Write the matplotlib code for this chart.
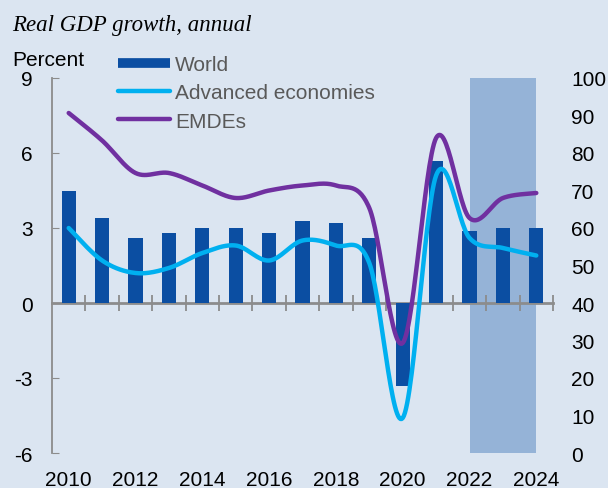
import numpy as np
import matplotlib
matplotlib.use("Agg")
import matplotlib.pyplot as plt
from matplotlib.lines import Line2D

plt.rcParams['font.family'] = ['Liberation Sans', 'DejaVu Sans']
plt.rcParams['axes.unicode_minus'] = False

# data
years = np.arange(2010, 2025)
world = [4.5, 3.4, 2.6, 2.8, 3.0, 3.0, 2.8, 3.3, 3.2, 2.6, -3.3, 5.7, 2.9, 3.0, 3.0]
advanced = [3.0, 1.7, 1.2, 1.4, 2.0, 2.3, 1.7, 2.5, 2.3, 1.6, -4.6, 5.1, 2.6, 2.2, 1.9]
emdes = [7.6, 6.5, 5.2, 5.2, 4.7, 4.2, 4.5, 4.7, 4.7, 3.8, -1.6, 6.6, 3.4, 4.2, 4.4]
shade_years = [2022, 2024]
shade_top = [100, 100]

bg = '#dbe5f1'
c_bar = '#0b4ea2'
c_ae = '#00b0f0'
c_em = '#7030a0'
c_shade = '#95b3d7'
fs = 15


def smooth(x, y, n=30):
    # Excel-like smoothed line (Catmull-Rom through the points)
    p = np.column_stack([x, y]).astype(float)
    p = np.vstack([p[0], p, p[-1]])
    out = []
    t = np.linspace(0, 1, n, endpoint=False)[:, None]
    for i in range(1, len(p) - 2):
        p0, p1, p2, p3 = p[i - 1], p[i], p[i + 1], p[i + 2]
        seg = 0.5 * ((2 * p1) + (-p0 + p2) * t + (2 * p0 - 5 * p1 + 4 * p2 - p3) * t ** 2
                     + (-p0 + 3 * p1 - 3 * p2 + p3) * t ** 3)
        out.append(seg)
    out.append(p[-2][None, :])
    out = np.vstack(out)
    return out[:, 0], out[:, 1]


fig = plt.figure(figsize=(6.08, 4.89), dpi=100, facecolor=bg)
ax = fig.add_axes([52 / 608, 1 - 454 / 489, 501 / 608, 375 / 489])
ax2 = ax.twinx()
ax.set_zorder(ax2.get_zorder() + 1)
ax.patch.set_visible(False)
ax2.patch.set_facecolor(bg)

ax2.fill_between(shade_years, 0, shade_top, color=c_shade, lw=0)
ax2.set_ylim(0, 100)
ax2.set_yticks(range(0, 101, 10))
for s in ax2.spines.values():
    s.set_visible(False)
ax2.tick_params(axis='y', length=0, pad=13, labelsize=fs, colors='black')

ax.bar(years, world, width=0.42, color=c_bar, zorder=2)
x, y = smooth(years, advanced)
ax.plot(x, y, color=c_ae, lw=3.2, solid_capstyle='round', zorder=3)
x, y = smooth(years, emdes)
ax.plot(x, y, color=c_em, lw=3.2, solid_capstyle='round', zorder=4)

ax.set_xlim(2009.5, 2024.5)
ax.set_ylim(-6, 9)
ax.set_yticks(range(-6, 10, 3))
ax.set_xticks(range(2010, 2025, 2))
ax.tick_params(axis='y', direction='in', length=5, color='#8c8c8c', pad=14, labelsize=fs)
ax.tick_params(axis='x', length=0, pad=12, labelsize=fs)
for k in ['top', 'right', 'bottom']:
    ax.spines[k].set_visible(False)
ax.spines['left'].set_color('#8c8c8c')
ax.spines['left'].set_linewidth(1.3)

# zero line with cross ticks between years
zx = ax.secondary_xaxis(0.4)
zx.set_xticks(np.arange(2010.5, 2024.6, 1))
zx.set_xticklabels([])
zx.tick_params(direction='inout', length=11, width=1.3, color='#8c8c8c')
zx.spines['bottom'].set_color('#8c8c8c')
zx.spines['bottom'].set_linewidth(2)

fig.text(12 / 608, 1 - 31 / 489, 'Real GDP growth, annual', family='Liberation Serif',
         style='italic', fontsize=16.5, color='black')
fig.text(12 / 608, 1 - 60 / 489, 'Percent', fontsize=fs, va='center')

handles = [Line2D([], [], color=c_bar, lw=7, solid_capstyle='butt'),
           Line2D([], [], color=c_ae, lw=3.2, solid_capstyle='round'),
           Line2D([], [], color=c_em, lw=3.2, solid_capstyle='round')]
leg = fig.legend(handles, ['World', 'Advanced economies', 'EMDEs'],
                 loc='upper left', bbox_to_anchor=(118 / 608, 1 - 56 / 489),
                 frameon=False, fontsize=fs, handlelength=2.5, handletextpad=0.25,
                 labelspacing=0.45, borderpad=0, borderaxespad=0)
for t in leg.get_texts():
    t.set_color('#595959')

fig.savefig('out.png', dpi=100, facecolor=bg)
